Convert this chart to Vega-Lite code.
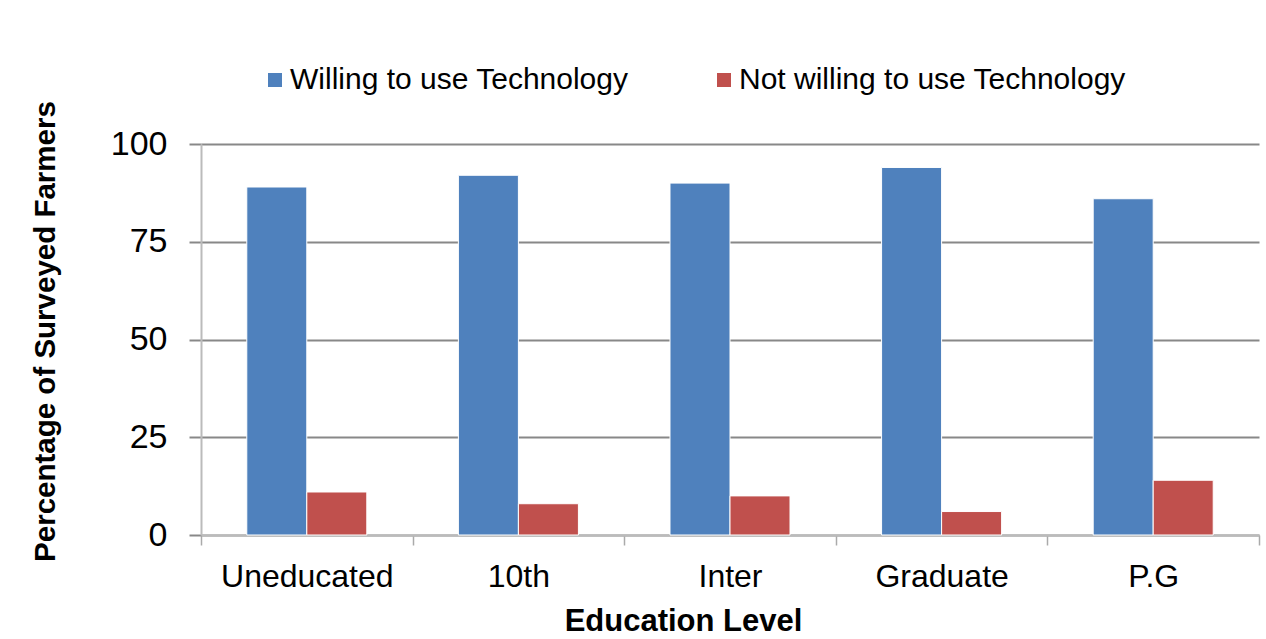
{
  "$schema": "https://vega.github.io/schema/vega-lite/v6.json",
  "width": 1058,
  "height": 391,
  "autosize": "none",
  "padding": {"left": 201, "top": 144, "right": 7, "bottom": 104},
  "background": "white",
  "config": {
    "font": "Liberation Sans",
    "view": {"stroke": null}
  },
  "data": {
    "values": [
      {"level": "Uneducated", "group": "Willing to use Technology", "value": 89},
      {"level": "Uneducated", "group": "Not willing to use Technology", "value": 11},
      {"level": "10th", "group": "Willing to use Technology", "value": 92},
      {"level": "10th", "group": "Not willing to use Technology", "value": 8},
      {"level": "Inter", "group": "Willing to use Technology", "value": 90},
      {"level": "Inter", "group": "Not willing to use Technology", "value": 10},
      {"level": "Graduate", "group": "Willing to use Technology", "value": 94},
      {"level": "Graduate", "group": "Not willing to use Technology", "value": 6},
      {"level": "P.G", "group": "Willing to use Technology", "value": 86},
      {"level": "P.G", "group": "Not willing to use Technology", "value": 14}
    ]
  },
  "mark": {"type": "bar", "stroke": "white", "strokeWidth": 1},
  "encoding": {
    "x": {
      "field": "level",
      "type": "nominal",
      "sort": ["Uneducated", "10th", "Inter", "Graduate", "P.G"],
      "scale": {"paddingInner": 0, "paddingOuter": 0},
      "axis": {
        "title": "Education Level",
        "titleFont": "Liberation Sans",
        "titleFontSize": 31,
        "titleFontWeight": "bold",
        "titleColor": "black",
        "titleX": 482,
        "titleY": 86,
        "titleBaseline": "middle",
        "labelAngle": 0,
        "labelFontSize": 32,
        "labelColor": "black",
        "labelPadding": 16,
        "labelBaseline": "top",
        "domainColor": "#bbbbbb",
        "domainWidth": 2,
        "tickBand": "extent",
        "tickColor": "#aaaaaa",
        "tickSize": 10,
        "tickWidth": 1.5,
        "grid": false
      }
    },
    "xOffset": {
      "field": "group",
      "type": "nominal",
      "sort": ["Willing to use Technology", "Not willing to use Technology"],
      "scale": {"paddingInner": 0, "paddingOuter": 0.763}
    },
    "y": {
      "field": "value",
      "type": "quantitative",
      "scale": {"domain": [0, 100], "nice": false},
      "axis": {
        "title": "Percentage of Surveyed Farmers",
        "titleFont": "Liberation Sans",
        "titleFontSize": 29.5,
        "titleFontWeight": "bold",
        "titleColor": "black",
        "titleX": -156,
        "titleY": 187,
        "titleBaseline": "middle",
        "titleAlign": "center",
        "titleAngle": -90,
        "values": [0, 25, 50, 75, 100],
        "labelFontSize": 34,
        "labelColor": "black",
        "labelPadding": 22,
        "domainColor": "#bbbbbb",
        "domainWidth": 2,
        "tickColor": "#888888",
        "tickSize": 12,
        "tickWidth": 2,
        "grid": true,
        "gridColor": "#888888",
        "gridWidth": 2
      }
    },
    "color": {
      "field": "group",
      "type": "nominal",
      "sort": ["Willing to use Technology", "Not willing to use Technology"],
      "scale": {
        "domain": ["Willing to use Technology", "Not willing to use Technology"],
        "range": ["#4f81bd", "#c0504d"]
      },
      "legend": {
        "title": null,
        "orient": "none",
        "direction": "horizontal",
        "legendX": 59,
        "legendY": -79,
        "symbolType": "square",
        "symbolSize": 196,
        "symbolStrokeWidth": 0,
        "labelFontSize": 30,
        "labelColor": "black",
        "labelOffset": 0,
        "columnPadding": 80,
        "labelLimit": 600
      }
    }
  }
}
